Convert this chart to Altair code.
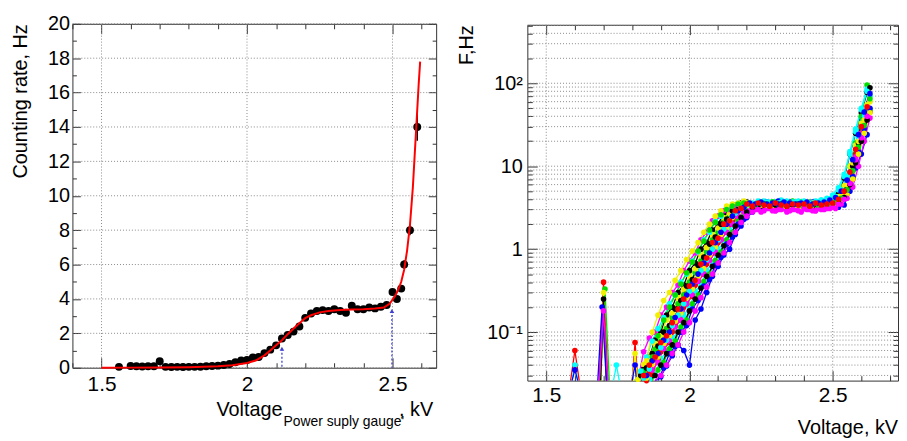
import altair as alt
import pandas as pd

# ---------------------------------------------------------------- left panel data
left_voltage = [1.56, 1.60, 1.62, 1.64, 1.66, 1.68, 1.70, 1.72, 1.74, 1.76,
                1.78, 1.80, 1.82, 1.84, 1.86, 1.88, 1.90, 1.92, 1.94, 1.96,
                1.98, 2.00, 2.02, 2.04, 2.06, 2.08, 2.10, 2.12, 2.14, 2.16,
                2.18, 2.20, 2.22, 2.24, 2.26, 2.28, 2.30, 2.32, 2.34, 2.36,
                2.38, 2.40, 2.42, 2.44, 2.46, 2.48, 2.50, 2.515, 2.53, 2.54,
                2.56, 2.585]
left_rate = [0.05, 0.10, 0.08, 0.07, 0.08, 0.08, 0.38, 0.05, 0.04, 0.05,
             0.04, 0.05, 0.05, 0.06, 0.08, 0.10, 0.12, 0.16, 0.22, 0.32,
             0.42, 0.45, 0.60, 0.62, 0.85, 1.05, 1.30, 1.70, 1.90, 2.10,
             2.40, 2.90, 3.15, 3.30, 3.35, 3.30, 3.40, 3.30, 3.20, 3.60,
             3.40, 3.40, 3.50, 3.45, 3.55, 3.65, 4.40, 4.00, 4.60, 6.00,
             8.00, 14.0]
left_err = [0.05, 0.05, 0.05, 0.05, 0.05, 0.05, 0.05, 0.05, 0.05, 0.05,
            0.05, 0.05, 0.05, 0.05, 0.05, 0.05, 0.05, 0.05, 0.05, 0.05,
            0.05, 0.08, 0.08, 0.08, 0.08, 0.08, 0.08, 0.08, 0.08, 0.08,
            0.08, 0.10, 0.10, 0.10, 0.10, 0.10, 0.10, 0.10, 0.10, 0.10,
            0.10, 0.10, 0.10, 0.10, 0.10, 0.10, 0.15, 0.15, 0.20, 0.25,
            0.30, 0.80]
fit_voltage = [1.50, 1.60, 1.70, 1.80, 1.85, 1.90, 1.95, 2.00, 2.03, 2.06,
               2.08, 2.10, 2.12, 2.14, 2.16, 2.18, 2.20, 2.22, 2.25, 2.28,
               2.32, 2.36, 2.40, 2.44, 2.47, 2.49, 2.51, 2.52, 2.53, 2.54,
               2.55, 2.56, 2.57, 2.58, 2.59, 2.595]
fit_rate = [0.0, 0.005, 0.01, 0.03, 0.05, 0.08, 0.14, 0.27, 0.42, 0.72,
            1.0, 1.3, 1.6, 1.95, 2.28, 2.58, 2.88, 3.05, 3.22, 3.3,
            3.36, 3.38, 3.4, 3.44, 3.5, 3.72, 4.2, 4.55, 5.0, 5.7,
            6.8, 8.3, 10.5, 13.5, 16.5, 17.8]
marker_voltage = [2.12, 2.498]
marker_rate = [1.1, 3.3]

left_x_major = [1.5, 2.0, 2.5]
left_x_minor = [1.4, 1.6, 1.7, 1.8, 1.9, 2.1, 2.2, 2.3, 2.4, 2.6]
left_y_major = [0, 2, 4, 6, 8, 10, 12, 14, 16, 18, 20]
left_y_minor = [1, 3, 5, 7, 9, 11, 13, 15, 17, 19]

# ---------------------------------------------------------------- right panel data
grid_a = [1.80, 1.82, 1.84, 1.86, 1.88, 1.90, 1.92, 1.94, 1.96, 1.98,
          2.00, 2.02, 2.04, 2.06, 2.08, 2.10, 2.12, 2.14, 2.16, 2.18,
          2.20, 2.22, 2.24, 2.26, 2.28, 2.30, 2.32, 2.34, 2.36, 2.38,
          2.40, 2.42, 2.44, 2.46, 2.48, 2.50, 2.52, 2.54, 2.56, 2.58,
          2.60, 2.62]
grid_b = [1.81, 1.83, 1.85, 1.87, 1.89, 1.91, 1.93, 1.95, 1.97, 1.99,
          2.01, 2.03, 2.05, 2.07, 2.09, 2.11, 2.13, 2.15, 2.17, 2.19,
          2.21, 2.23, 2.25, 2.27, 2.29, 2.31, 2.33, 2.35, 2.37, 2.39,
          2.41, 2.43, 2.45, 2.47, 2.49, 2.51, 2.53, 2.55, 2.57, 2.59,
          2.61, 2.63]

black_a = [None, 0.015, 0.036, 0.05, 0.08, 0.10, 0.16, 0.20, 0.30, 0.37,
           0.55, 0.68, 1.0, 1.2, 1.7, 2.0, 2.7, 2.9, 3.4, 3.6,
           3.7, 3.4, 3.6, 3.3, 3.5, 3.6, 3.4, 3.5, 3.3, 3.6,
           3.5, 3.4, 3.6, 3.5, 3.6, 3.8, 4.6, 7.2, 14, 25,
           44, 78]
red_a = [None, 0.018, 0.028, 0.032, 0.047, 0.058, 0.085, 0.10, 0.16, 0.20,
         0.30, 0.37, 0.55, 0.66, 1.0, 1.2, 1.7, 2.0, 2.7, 2.9,
         3.2, 3.5, 3.3, 3.4, 3.2, 3.5, 3.3, 3.4, 3.6, 3.3,
         3.4, 3.2, 3.5, 3.3, 3.4, 3.5, 3.8, 4.5, 7.0, 14,
         25, 46]
green_a = [None, 0.02, 0.034, 0.044, 0.062, 0.078, 0.11, 0.15, 0.22, 0.28,
           0.40, 0.52, 0.72, 0.93, 1.3, 1.6, 2.2, 2.5, 3.0, 3.3,
           3.6, 3.5, 3.7, 3.6, 3.4, 3.7, 3.5, 3.6, 3.8, 3.5,
           3.6, 3.7, 3.5, 3.6, 3.7, 3.7, 4.2, 5.6, 10, 19,
           40, 95]
blue_a = [None, None, None, None, 0.015, 0.029, 0.039, 0.052, 0.07, 0.06,
          0.04, 0.14, 0.19, 0.30, 0.47, 0.62, 0.85, 1.0, 1.5, 1.9,
          2.4, 2.8, 3.1, 3.3, 3.4, 3.2, 3.3, 3.1, 3.3, 3.4,
          3.2, 3.3, 3.2, 3.1, 3.3, 3.3, 3.2, 3.4, 5.0, 9.5,
          14, 24]
yellow_a = [0.02, 0.027, 0.041, 0.05, 0.073, 0.09, 0.14, 0.17, 0.26, 0.33,
            0.47, 0.58, 0.85, 1.05, 1.5, 1.8, 2.4, 2.7, 3.2, 3.4,
            3.6, 3.5, 3.4, 3.6, 3.5, 3.3, 3.6, 3.5, 3.4, 3.6,
            3.5, 3.6, 3.4, 3.7, 3.6, 3.8, 4.3, 5.8, 10, 18,
            33, 55]
magenta_a = [None, 0.015, 0.058, 0.085, 0.10, 0.16, 0.20, 0.30, 0.37, 0.55,
             0.72, 0.90, 1.3, 1.6, 2.2, 2.5, 2.9, 3.0, 3.3, 3.1,
             3.2, 3.0, 3.3, 3.1, 3.2, 2.9, 3.2, 3.1, 3.3, 3.0,
             3.2, 3.1, 2.9, 3.1, 3.3, 3.5, 3.7, 4.4, 6.8, 13,
             25, 44]
cyan_a = [None, None, 0.017, 0.027, 0.031, 0.048, 0.057, 0.085, 0.10, 0.16,
          0.20, 0.31, 0.37, 0.55, 0.68, 1.0, 1.2, 1.7, 2.0, 2.7,
          3.1, 3.5, 3.7, 3.8, 3.6, 3.7, 3.9, 3.6, 3.7, 3.8,
          3.7, 3.6, 3.8, 3.9, 4.0, 4.2, 5.2, 7.5, 15, 28,
          50, 85]
black_b = [0.02, 0.03, 0.037, 0.055, 0.068, 0.10, 0.12, 0.19, 0.24, 0.36,
           0.43, 0.64, 0.80, 1.15, 1.4, 2.0, 2.3, 2.9, 3.0, 3.3,
           3.3, 3.4, 3.2, 3.3, 3.1, 3.4, 3.3, 3.2, 3.4, 3.3,
           3.3, 3.2, 3.4, 3.3, 3.4, 3.6, 4.0, 5.3, 10, 19,
           40, 88]
red_b = [None, 0.017, 0.026, 0.031, 0.047, 0.062, 0.075, 0.12, 0.14, 0.22,
         0.27, 0.41, 0.50, 0.74, 0.90, 1.3, 1.6, 2.2, 2.5, 3.1,
         3.3, 3.5, 3.4, 3.6, 3.3, 3.4, 3.2, 3.5, 3.4, 3.3,
         3.4, 3.5, 3.3, 3.4, 3.4, 3.5, 3.8, 4.6, 7.0, 14,
         26, 45]
green_b = [None, None, None, 0.02, 0.035, 0.043, 0.063, 0.078, 0.115, 0.14,
           0.22, 0.28, 0.41, 0.50, 0.73, 0.92, 1.3, 1.6, 2.2, 2.5,
           3.1, 3.4, 3.6, 3.5, 3.7, 3.4, 3.6, 3.5, 3.4, 3.7,
           3.5, 3.6, 3.4, 3.5, 3.5, 3.6, 3.9, 4.7, 7.3, 15,
           28, 48]
blue_b = [None, None, None, None, 0.02, 0.037, 0.055, 0.067, 0.10, 0.12,
          0.19, 0.24, 0.36, 0.43, 0.64, 0.80, 1.15, 1.4, 2.0, 2.3,
          2.9, 3.2, 3.6, 3.7, 3.5, 3.8, 3.6, 3.7, 3.5, 3.6,
          3.6, 3.7, 3.5, 3.6, 3.6, 3.7, 4.0, 4.9, 7.5, 15,
          28, 50]
yellow_b = [None, 0.022, 0.028, 0.041, 0.05, 0.073, 0.09, 0.135, 0.17, 0.26,
            0.33, 0.47, 0.58, 0.85, 1.05, 1.5, 1.8, 2.4, 2.7, 3.2,
            3.3, 3.2, 3.4, 3.3, 3.1, 3.3, 3.4, 3.2, 3.3, 3.2,
            3.3, 3.4, 3.2, 3.3, 3.3, 3.4, 3.7, 4.5, 7.0, 14,
            25, 44]
magenta_b = [None, None, 0.02, 0.035, 0.043, 0.063, 0.078, 0.115, 0.14, 0.22,
             0.28, 0.41, 0.50, 0.73, 0.92, 1.3, 1.6, 2.0, 2.5, 2.8,
             2.9, 3.0, 2.8, 3.1, 2.9, 3.0, 3.1, 2.9, 3.0, 2.8,
             3.0, 2.9, 3.1, 3.0, 3.1, 3.1, 3.5, 4.1, 5.6, 10,
             20, 38]
cyan_b = [0.015, 0.034, 0.05, 0.078, 0.11, 0.15, 0.22, 0.28, 0.40, 0.50,
          0.72, 0.93, 1.3, 1.6, 2.2, 2.5, 3.1, 3.3, 3.6, 3.5,
          3.6, 3.4, 3.5, 3.7, 3.5, 3.6, 3.4, 3.5, 3.7, 3.6,
          3.5, 3.6, 3.7, 3.8, 4.0, 4.3, 5.2, 7.5, 12, 22,
          40, 70]
red_c = [None, 0.016, 0.03, 0.04, 0.05, 0.075, 0.09, 0.13, 0.19, 0.25,
         0.36, 0.42, 0.66, 0.78, 1.2, 1.35, 2.0, 2.2, 2.9, 3.1,
         3.5, 3.3, 3.6, 3.4, 3.3, 3.6, 3.4, 3.3, 3.5, 3.4,
         3.5, 3.3, 3.6, 3.4, 3.5, 3.6, 4.0, 5.0, 8.5, 16,
         30, 52]
green_c = [None, None, 0.02, 0.05, 0.09, 0.14, 0.20, 0.28, 0.38, 0.52,
           0.70, 0.95, 1.25, 1.7, 2.1, 2.6, 3.0, 3.3, 3.5, 3.6,
           3.5, 3.4, 3.6, 3.5, 3.7, 3.5, 3.4, 3.6, 3.5, 3.4,
           3.6, 3.5, 3.4, 3.6, 3.5, 3.7, 4.1, 5.2, 8.8, 17,
           31, 65]
blue_c = [None, 0.02, 0.03, 0.045, 0.055, 0.08, 0.10, 0.15, 0.19, 0.28,
          0.38, 0.50, 0.68, 0.90, 1.2, 1.6, 2.0, 2.5, 2.9, 3.2,
          3.6, 3.5, 3.7, 3.5, 3.6, 3.5, 3.7, 3.6, 3.5, 3.6,
          3.7, 3.5, 3.6, 3.7, 3.9, 4.2, 5.0, 6.8, 12, 24,
          45, 75]
black_c = [None, None, None, 0.02, 0.03, 0.04, 0.055, 0.07, 0.10, 0.13,
           0.18, 0.25, 0.34, 0.47, 0.62, 0.85, 1.1, 1.5, 1.9, 2.4,
           2.8, 3.2, 3.4, 3.5, 3.3, 3.4, 3.5, 3.3, 3.4, 3.5,
           3.4, 3.3, 3.5, 3.4, 3.4, 3.5, 3.6, 4.2, 6.0, 11,
           20, 36]
yellow_c = [None, 0.02, 0.045, 0.10, 0.16, 0.24, 0.30, 0.42, 0.55, 0.75,
            0.95, 1.2, 1.6, 2.0, 2.5, 2.9, 3.3, 3.5, 3.6, 3.8,
            3.6, 3.5, 3.7, 3.4, 3.6, 3.5, 3.3, 3.6, 3.4, 3.5,
            3.4, 3.6, 3.5, 3.7, 3.6, 3.8, 4.4, 6.0, 11, 20,
            36, 60]
magenta_c = [None, None, None, None, 0.02, 0.03, 0.04, 0.055, 0.07, 0.10,
             0.13, 0.18, 0.26, 0.35, 0.50, 0.68, 0.90, 1.2, 1.6, 2.1,
             2.5, 2.8, 3.0, 2.9, 3.1, 2.9, 3.0, 2.8, 3.0, 2.9,
             3.1, 3.0, 2.9, 3.0, 3.1, 3.2, 3.5, 4.0, 6.2, 12,
             22, 40]
cyan_c = [None, 0.02, 0.028, 0.036, 0.05, 0.065, 0.08, 0.12, 0.16, 0.22,
          0.31, 0.42, 0.55, 0.75, 1.0, 1.3, 1.75, 2.2, 2.7, 3.1,
          3.4, 3.6, 3.8, 3.6, 3.7, 3.5, 3.7, 3.8, 3.6, 3.7,
          3.8, 3.6, 3.7, 3.9, 4.1, 4.5, 5.5, 8.0, 14, 26,
          48, 80]

BLACK, RED, GREEN, BLUE = "#000000", "#ff0000", "#00e000", "#0000ff"
YELLOW, MAGENTA, CYAN = "#f0f000", "#ff00ff", "#00ffff"

channels = [
    (BLACK, grid_a, black_a), (RED, grid_a, red_a), (GREEN, grid_a, green_a),
    (BLUE, grid_a, blue_a), (YELLOW, grid_a, yellow_a), (MAGENTA, grid_a, magenta_a),
    (CYAN, grid_a, cyan_a), (BLACK, grid_b, black_b), (RED, grid_b, red_b),
    (GREEN, grid_b, green_b), (BLUE, grid_b, blue_b), (YELLOW, grid_b, yellow_b),
    (MAGENTA, grid_b, magenta_b), (CYAN, grid_b, cyan_b),
    (YELLOW, grid_b, yellow_c), (CYAN, grid_a, cyan_c), (BLACK, grid_a, black_c),
    (GREEN, grid_b, green_c), (MAGENTA, grid_a, magenta_c), (BLUE, grid_b, blue_c),
    (RED, grid_a, red_c),
]

# isolated noise bursts at low voltage (colour, voltages, rates)
spikes = [
    (RED, [1.585, 1.60, 1.615], [0.01, 0.06, 0.01]),
    (CYAN, [1.59, 1.60, 1.61], [0.01, 0.04, 0.01]),
    (BLUE, [1.59, 1.60, 1.61], [0.01, 0.035, 0.01]),
    (RED, [1.685, 1.70, 1.715], [0.01, 0.40, 0.01]),
    (GREEN, [1.69, 1.705, 1.72], [0.01, 0.33, 0.01]),
    (YELLOW, [1.69, 1.70, 1.71], [0.01, 0.30, 0.01]),
    (BLACK, [1.69, 1.70, 1.71], [0.01, 0.25, 0.01]),
    (BLUE, [1.68, 1.695, 1.71], [0.01, 0.20, 0.01]),
    (MAGENTA, [1.685, 1.70, 1.715], [0.01, 0.18, 0.01]),
    (CYAN, [1.735, 1.745, 1.755], [0.01, 0.04, 0.01]),
    (RED, [1.80, 1.81, 1.82], [0.01, 0.075, 0.01]),
    (YELLOW, [1.80, 1.81, 1.82], [0.01, 0.055, 0.01]),
    (BLUE, [1.80, 1.81, 1.815], [0.01, 0.04, 0.01]),
]

right_x_major = [1.5, 2.0, 2.5]
right_x_minor = [1.6, 1.7, 1.8, 1.9, 2.1, 2.2, 2.3, 2.4, 2.6, 2.7]
right_y_major = [0.1, 1, 10, 100]
right_y_minor = [0.03, 0.04, 0.05, 0.06, 0.07, 0.08, 0.09,
                 0.2, 0.3, 0.4, 0.5, 0.6, 0.7, 0.8, 0.9,
                 2, 3, 4, 5, 6, 7, 8, 9,
                 20, 30, 40, 50, 60, 70, 80, 90,
                 200, 300, 400, 500]

# ---------------------------------------------------------------- layout / style
W, H = 899, 433
L1, R1, T1, B1 = 65, 432, 14, 361
L2, R2, T2, B2 = 524, 898, 15, 374
FONT = "Liberation Sans"
TC = "#333333"
GRID = "#8a8a8a"


def sx_left():
    return alt.Scale(domain=[1.4, 2.65], range=[L1, R1], nice=False, zero=False)


def sy_left():
    return alt.Scale(domain=[0, 20], range=[B1, T1], nice=False, zero=False)


def sx_right():
    return alt.Scale(domain=[1.434, 2.728], range=[L2, R2], nice=False, zero=False)


def sy_right():
    return alt.Scale(type="log", domain=[0.026, 507], range=[B2, T2], nice=False, clamp=True)


def tick_axis(orient, offset, values, size, domain=False):
    return alt.Axis(orient=orient, offset=offset, values=values, labels=False,
                    ticks=True, tickSize=size, tickColor=TC, tickWidth=1,
                    domain=domain, domainColor=TC, domainWidth=1,
                    grid=False, title=None)


def holder(xs, ys, xaxis, yaxis):
    return alt.Chart(pd.DataFrame({"hx": [2.0], "hy": [1.0]})).mark_point(opacity=0).encode(
        x=alt.X("hx:Q", scale=xs, axis=xaxis),
        y=alt.Y("hy:Q", scale=ys, axis=yaxis),
    )


def label_text(txt, x, y, size, align):
    return alt.Chart(pd.DataFrame({"t": [txt]})).mark_text(
        align=align, baseline="alphabetic", font=FONT, fontSize=size, color="black"
    ).encode(text="t:N", x=alt.value(x), y=alt.value(y))


layers = []

# ---------------- left panel
layers.append(alt.Chart(pd.DataFrame({"g": left_x_major})).mark_rule(
    color=GRID, strokeDash=[1, 2], strokeWidth=1).encode(
    x=alt.X("g:Q", scale=sx_left(), axis=None), y=alt.value(T1), y2=alt.value(B1)))
layers.append(alt.Chart(pd.DataFrame({"g": left_y_major})).mark_rule(
    color=GRID, strokeDash=[1, 2], strokeWidth=1).encode(
    y=alt.Y("g:Q", scale=sy_left(), axis=None), x=alt.value(L1), x2=alt.value(R1)))

df_mark = pd.DataFrame({"V": marker_voltage, "R": marker_rate})
layers.append(alt.Chart(df_mark).mark_rule(color="#4040d0", strokeDash=[2, 2], strokeWidth=1.3).encode(
    x=alt.X("V:Q", scale=sx_left(), axis=None),
    y=alt.Y("R:Q", scale=sy_left(), axis=None), y2=alt.value(B1)))
layers.append(alt.Chart(df_mark).mark_point(shape="triangle-up", filled=True, size=22,
                                            color="#4040d0", opacity=1).encode(
    x=alt.X("V:Q", scale=sx_left(), axis=None),
    y=alt.Y("R:Q", scale=sy_left(), axis=None)))

df_left = pd.DataFrame({"V": left_voltage, "R": left_rate, "E": left_err})
layers.append(alt.Chart(df_left).transform_calculate(
    lo="datum.R - datum.E", hi="datum.R + datum.E").mark_rule(color="black", strokeWidth=1.5).encode(
    x=alt.X("V:Q", scale=sx_left(), axis=None),
    y=alt.Y("lo:Q", scale=sy_left(), axis=None), y2="hi:Q"))
layers.append(alt.Chart(df_left).mark_circle(size=64, color="black", opacity=1).encode(
    x=alt.X("V:Q", scale=sx_left(), axis=None),
    y=alt.Y("R:Q", scale=sy_left(), axis=None)))
layers.append(alt.Chart(pd.DataFrame({"V": fit_voltage, "R": fit_rate})).mark_line(
    color="#ff0000", strokeWidth=2).encode(
    x=alt.X("V:Q", scale=sx_left(), axis=None),
    y=alt.Y("R:Q", scale=sy_left(), axis=None)))

# left axes: labels + frame + inward ticks
layers.append(holder(
    sx_left(), sy_left(),
    alt.Axis(orient="bottom", offset=B1 - H, values=left_x_major, format="~g", ticks=False,
             domain=True, domainColor=TC, labelFontSize=21, labelPadding=6, labelFlush=False,
             labelOverlap=False, labelColor="black", grid=False, title=None),
    alt.Axis(orient="left", offset=-L1, values=left_y_major, format="d", ticks=False,
             domain=True, domainColor=TC, labelFontSize=20, labelPadding=3, labelFlush=False,
             labelOverlap=False, labelColor="black", grid=False,
             title="Counting rate, Hz", titleAnchor="end", titleFontSize=20,
             titleFontWeight="normal", titlePadding=17, titleColor="black")))
layers.append(holder(sx_left(), sy_left(),
                     tick_axis("top", -B1, left_x_major, 10),
                     tick_axis("right", L1 - W, left_y_major, 8)))
layers.append(holder(sx_left(), sy_left(),
                     tick_axis("top", -B1, left_x_minor, 5),
                     tick_axis("right", L1 - W, left_y_minor, 4)))
layers.append(holder(sx_left(), sy_left(),
                     tick_axis("bottom", T1 - H, left_x_major, 10, domain=True),
                     tick_axis("left", -R1, left_y_major, 8, domain=True)))
layers.append(holder(sx_left(), sy_left(),
                     tick_axis("bottom", T1 - H, left_x_minor, 5),
                     tick_axis("left", -R1, left_y_minor, 4)))

# ---------------- right panel
layers.append(alt.Chart(pd.DataFrame({"g": right_x_major})).mark_rule(
    color=GRID, strokeDash=[1, 2], strokeWidth=1).encode(
    x=alt.X("g:Q", scale=sx_right(), axis=None), y=alt.value(T2), y2=alt.value(B2)))
layers.append(alt.Chart(pd.DataFrame({"g": right_y_major + right_y_minor})).mark_rule(
    color=GRID, strokeDash=[1, 2], strokeWidth=1).encode(
    y=alt.Y("g:Q", scale=sy_right(), axis=None), x=alt.value(L2), x2=alt.value(R2)))

rows = []
for k, (col, grid, vals) in enumerate(channels):
    for v, f in zip(grid, vals):
        if f is not None:
            rows.append({"V": v, "F": f, "s": "ch%d" % k, "c": col})
for k, (col, vs, fs) in enumerate(spikes):
    for v, f in zip(vs, fs):
        rows.append({"V": v, "F": f, "s": "sp%d" % k, "c": col})
df_right = pd.DataFrame(rows)

layers.append(alt.Chart(df_right).mark_line(strokeWidth=1.3).encode(
    x=alt.X("V:Q", scale=sx_right(), axis=None),
    y=alt.Y("F:Q", scale=sy_right(), axis=None),
    color=alt.Color("c:N", scale=None), detail="s:N"))
layers.append(alt.Chart(df_right).transform_filter("datum.F >= 0.026").mark_circle(
    size=32, opacity=1).encode(
    x=alt.X("V:Q", scale=sx_right(), axis=None),
    y=alt.Y("F:Q", scale=sy_right(), axis=None),
    color=alt.Color("c:N", scale=None)))

log_labels = ("datum.value < 0.5 ? '10\u207b\u00b9' : (datum.value < 5 ? '1' : "
              "(datum.value < 50 ? '10' : '10\u00b2'))")
layers.append(holder(
    sx_right(), sy_right(),
    alt.Axis(orient="bottom", offset=B2 - H, values=right_x_major, format="~g", ticks=False,
             domain=True, domainColor=TC, labelFontSize=21, labelPadding=4, labelFlush=False,
             labelOverlap=False, labelColor="black", grid=False, title=None),
    alt.Axis(orient="left", offset=-L2, values=right_y_major, labelExpr=log_labels, ticks=False,
             domain=True, domainColor=TC, labelFontSize=20, labelPadding=5, labelFlush=False,
             labelOverlap=False, labelColor="black", grid=False,
             title="F,Hz", titleAnchor="end", titleFontSize=20,
             titleFontWeight="normal", titlePadding=10, titleColor="black")))
layers.append(holder(sx_right(), sy_right(),
                     tick_axis("top", -B2, right_x_major, 10),
                     tick_axis("right", L2 - W, right_y_major, 10)))
layers.append(holder(sx_right(), sy_right(),
                     tick_axis("top", -B2, right_x_minor, 5),
                     tick_axis("right", L2 - W, right_y_minor, 5)))
layers.append(holder(sx_right(), sy_right(),
                     tick_axis("bottom", T2 - H, right_x_major, 10, domain=True),
                     tick_axis("left", -R2, right_y_major, 10, domain=True)))
layers.append(holder(sx_right(), sy_right(),
                     tick_axis("bottom", T2 - H, right_x_minor, 5),
                     tick_axis("left", -R2, right_y_minor, 5)))

# ---------------- axis titles drawn as text (subscript in the left one)
layers.append(label_text("Voltage", 277, 410, 20, "right"))
layers.append(label_text("Power suply gauge'", 278, 420, 14, "left"))
layers.append(label_text(", kV", 429, 410, 20, "right"))
layers.append(label_text("Voltage, kV", 898, 428, 20, "right"))

chart = alt.layer(*layers).resolve_scale(
    x="independent", y="independent"
).resolve_axis(
    x="independent", y="independent"
).properties(
    width=W, height=H, padding=0, autosize=alt.AutoSizeParams(type="none")
).configure_view(stroke=None).configure_axis(labelFont=FONT, titleFont=FONT)

chart.save("out.html", embed_options={"renderer": "svg", "actions": False})
